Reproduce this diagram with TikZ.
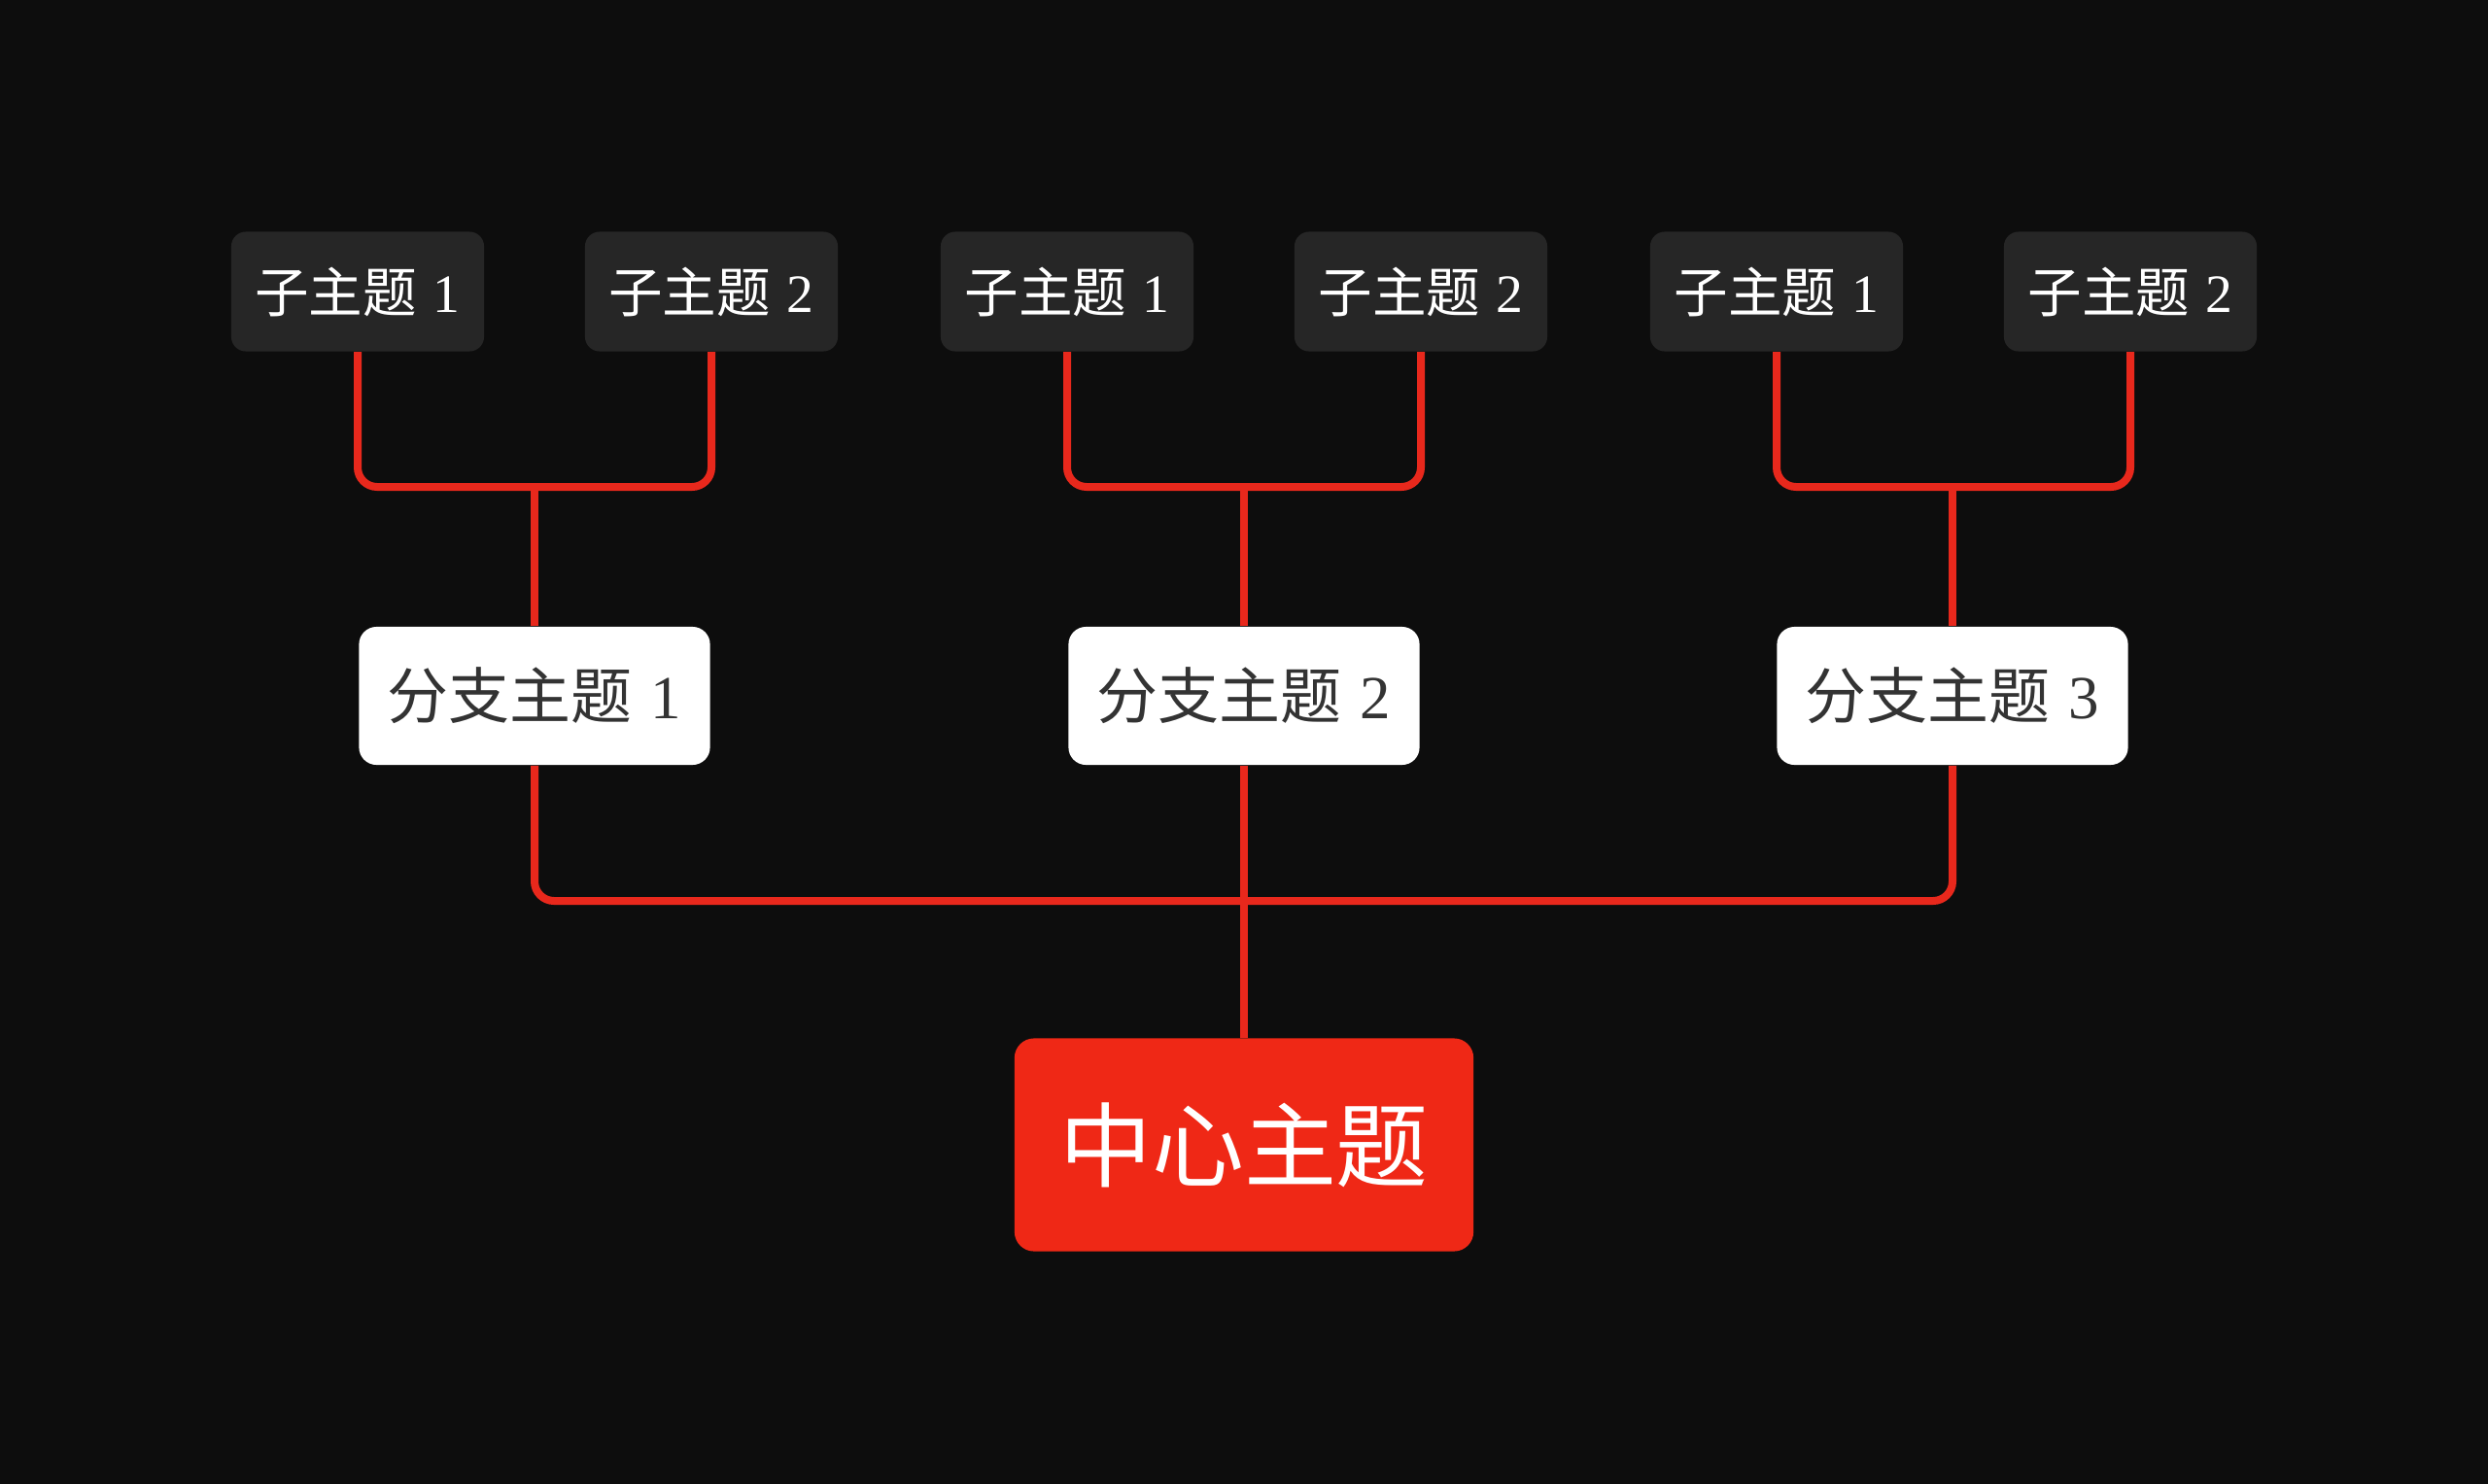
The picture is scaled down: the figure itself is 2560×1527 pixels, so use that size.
\documentclass[tikz,border=0pt]{standalone}
\usepackage{fontspec}
\newfontfamily\cjk{Noto Sans CJK SC}
\newfontfamily\dig{Liberation Serif}
\definecolor{bg}{HTML}{0D0D0D}
\definecolor{subfill}{HTML}{262626}
\definecolor{linkred}{HTML}{E8281C}
\definecolor{centerred}{HTML}{EF2816}
\definecolor{darktext}{HTML}{333333}
\newcommand{\lbl}[2]{{\cjk #1}\hspace{0.3em}{\dig #2}}
\tikzset{
  subbox/.style={rectangle, rounded corners=0.15cm, fill=subfill, text=white, inner sep=0pt,
    minimum width=2.60cm, minimum height=1.23cm, font=\fontsize{15.8pt}{18pt}\selectfont},
  branchbox/.style={rectangle, rounded corners=0.18cm, fill=white, text=darktext, inner sep=0pt,
    minimum width=3.61cm, minimum height=1.42cm, font=\fontsize{17.9pt}{21pt}\selectfont},
  centerbox/.style={rectangle, rounded corners=0.2cm, fill=centerred, text=white, inner sep=0pt,
    minimum width=4.72cm, minimum height=2.19cm, font=\fontsize{27pt}{32pt}\selectfont},
  link/.style={draw=linkred, line width=0.08cm, rounded corners=0.2cm}
}
\begin{document}
\begin{tikzpicture}[x=0.01cm, y=-0.01cm]
\fill[bg] (0,0) rectangle (2560,1527);
\useasboundingbox (0,0) rectangle (2560,1527);
% sub-topics
\node[subbox] (s11) at (368,300) {\lbl{子主题}{1}};
\node[subbox] (s12) at (732,300) {\lbl{子主题}{2}};
\node[subbox] (s21) at (1098,300) {\lbl{子主题}{1}};
\node[subbox] (s22) at (1462,300) {\lbl{子主题}{2}};
\node[subbox] (s31) at (1828,300) {\lbl{子主题}{1}};
\node[subbox] (s32) at (2192,300) {\lbl{子主题}{2}};
% branches
\node[branchbox] (b1) at (550,716) {\lbl{分支主题}{1}};
\node[branchbox] (b2) at (1280,716) {\lbl{分支主题}{2}};
\node[branchbox] (b3) at (2009,716) {\lbl{分支主题}{3}};
% center
\node[centerbox] (c) at (1280,1178) {\cjk 中心主题};
% junctions
\coordinate (j1) at (550,501);
\coordinate (j2) at (1280,501);
\coordinate (j3) at (2009,501);
\coordinate (j0) at (1280,927);
% links
\draw[link] (s11.south) |- (j1) -| (s12.south);
\draw[link] (j1) -- (b1.north);
\draw[link] (s21.south) |- (j2) -| (s22.south);
\draw[link] (j2) -- (b2.north);
\draw[link] (s31.south) |- (j3) -| (s32.south);
\draw[link] (j3) -- (b3.north);
\draw[link] (b1.south) |- (j0) -| (b3.south);
\draw[link] (b2.south) -- (c.north);
\end{tikzpicture}
\end{document}
